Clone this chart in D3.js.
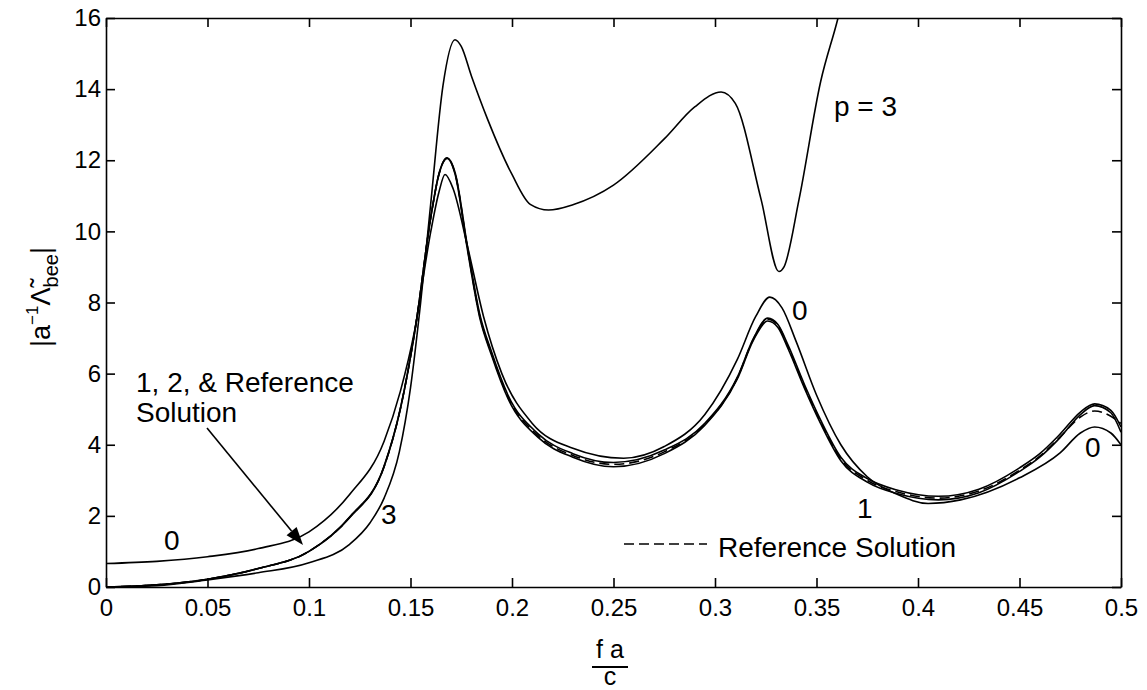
<!DOCTYPE html>
<html>
<head>
<meta charset="utf-8">
<script src="https://cdn.jsdelivr.net/npm/d3@7"></script>
<style>
  html, body { margin: 0; padding: 0; background: #fff; }
  svg { display: block; }
  text { font-family: "Liberation Sans", Arial, Helvetica, sans-serif; fill: #000; }
</style>
</head>
<body>
<svg id="chart" width="1147" height="690"></svg>
<script>
// ---------- data ----------
const xTicks = [0, 0.05, 0.1, 0.15, 0.2, 0.25, 0.3, 0.35, 0.4, 0.45, 0.5];
const xTickLabels = ["0", "0.05", "0.1", "0.15", "0.2", "0.25", "0.3", "0.35", "0.4", "0.45", "0.5"];
const yTicks = [0, 2, 4, 6, 8, 10, 12, 14, 16];
const yTickLabels = ["0", "2", "4", "6", "8", "10", "12", "14", "16"];

// p = 0
const p0X = [0, 0.025, 0.05, 0.075, 0.1, 0.12, 0.137, 0.145, 0.152, 0.16, 0.164, 0.167, 0.171, 0.178, 0.186, 0.195, 0.21, 0.23, 0.255, 0.275, 0.295, 0.311, 0.32, 0.327, 0.333, 0.34, 0.35, 0.362, 0.375, 0.39, 0.405, 0.421, 0.45, 0.47, 0.48, 0.487, 0.495, 0.5];
const p0Y = [0.66, 0.72, 0.85, 1.08, 1.55, 2.6, 4.1, 5.5, 7.2, 10.0, 11.1, 11.6, 11.2, 9.6, 7.6, 6.0, 4.6, 3.9, 3.62, 3.95, 4.85, 6.4, 7.6, 8.15, 7.85, 6.9, 5.4, 4.0, 3.1, 2.6, 2.35, 2.45, 3.07, 3.77, 4.33, 4.5, 4.33, 4.0];

// p = 1, p = 2, reference solution share the same frequency samples
const p12X = [0, 0.025, 0.05, 0.075, 0.1, 0.12, 0.137, 0.145, 0.1527, 0.16, 0.164, 0.168, 0.172, 0.178, 0.184, 0.19, 0.198, 0.213, 0.23, 0.25, 0.275, 0.295, 0.311, 0.319, 0.326, 0.331, 0.336, 0.344, 0.352, 0.362, 0.375, 0.39, 0.41, 0.43, 0.45, 0.46, 0.47, 0.48, 0.487, 0.495, 0.5];
const p1Y = [0, 0.06, 0.22, 0.52, 1.0, 1.95, 3.38, 5.0, 7.4, 10.4, 11.6, 12.05, 11.6, 9.5, 7.6, 6.5, 5.3, 4.2, 3.65, 3.38, 3.75, 4.55, 5.85, 6.95, 7.48, 7.3, 6.7, 5.6, 4.6, 3.55, 2.95, 2.62, 2.45, 2.65, 3.25, 3.65, 4.2, 4.85, 5.1, 4.9, 4.35];
const p2Y = [0, 0.06, 0.22, 0.52, 1.0, 1.97, 3.4, 5.02, 7.4, 10.4, 11.62, 12.07, 11.65, 9.6, 7.7, 6.6, 5.4, 4.3, 3.75, 3.5, 3.85, 4.6, 5.9, 7.0, 7.56, 7.38, 6.8, 5.7, 4.7, 3.65, 3.05, 2.72, 2.55, 2.75, 3.35, 3.75, 4.3, 4.92, 5.15, 4.97, 4.5];
const refY = [0, 0.06, 0.22, 0.52, 1.0, 1.96, 3.39, 5.01, 7.4, 10.4, 11.6, 12.06, 11.62, 9.55, 7.65, 6.55, 5.35, 4.25, 3.7, 3.45, 3.8, 4.57, 5.88, 6.98, 7.53, 7.35, 6.75, 5.65, 4.65, 3.6, 3.0, 2.67, 2.5, 2.7, 3.28, 3.68, 4.22, 4.78, 4.95, 4.8, 4.6];

// p = 3
const p3X = [0, 0.025, 0.05, 0.075, 0.1, 0.12, 0.13, 0.137, 0.1445, 0.15, 0.155, 0.16, 0.166, 0.1719, 0.175, 0.18, 0.188, 0.2, 0.209, 0.218, 0.23, 0.25, 0.275, 0.29, 0.303, 0.31, 0.3227, 0.3315, 0.334, 0.3414, 0.352, 0.3606, 0.364];
const p3Y = [0, 0.04, 0.2, 0.4, 0.68, 1.2, 1.8, 2.5, 3.8, 5.6, 8.0, 10.8, 14.1, 15.39, 15.2, 14.37, 13.15, 11.6, 10.76, 10.6, 10.75, 11.3, 12.6, 13.5, 13.92, 13.6, 10.9, 8.87, 9.0, 10.9, 14.2, 16.0, 16.8];

// ---------- layout ----------
const svg = d3.select("#chart");
svg.append("rect").attr("width", 1147).attr("height", 690).attr("fill", "#fff");

const L = 106, R = 1121, T = 18, B = 587;
const x = d3.scaleLinear().domain([0, 0.5]).range([L, R]);
const y = d3.scaleLinear().domain([0, 16]).range([B, T]);

svg.append("defs").append("clipPath").attr("id", "plotclip")
  .append("rect").attr("x", L).attr("y", T).attr("width", R - L).attr("height", B - T);

const line = d3.line().x(d => x(d[0])).y(d => y(d[1])).curve(d3.curveMonotoneX);
const zip = (xs, ys) => xs.map((v, i) => [v, ys[i]]);

const plot = svg.append("g").attr("clip-path", "url(#plotclip)");
const series = [
  { data: zip(p0X, p0Y), dash: null },
  { data: zip(p12X, p1Y), dash: null },
  { data: zip(p12X, p2Y), dash: null },
  { data: zip(p12X, refY), dash: "10,5" },
  { data: zip(p3X, p3Y), dash: null }
];
plot.selectAll("path.curve").data(series).join("path")
  .attr("class", "curve")
  .attr("d", d => line(d.data))
  .attr("fill", "none")
  .attr("stroke", "#000")
  .attr("stroke-width", 1.6)
  .attr("stroke-dasharray", d => d.dash);

// ---------- axes (inward ticks on all sides) ----------
const fs = 24;
function styleAxis(g) {
  g.select(".domain").attr("stroke", "#000").attr("stroke-width", 1.6);
  g.selectAll(".tick line").attr("stroke", "#000").attr("stroke-width", 1.6);
  g.selectAll(".tick text").attr("font-size", fs).attr("font-family", "Liberation Sans, Arial, sans-serif").attr("fill", "#000");
}
const gB = svg.append("g").attr("transform", `translate(0,${B})`)
  .call(d3.axisBottom(x).tickValues(xTicks).tickFormat((d, i) => xTickLabels[i]).tickSize(-9).tickSizeOuter(0).tickPadding(12));
styleAxis(gB);
const gT = svg.append("g").attr("transform", `translate(0,${T})`)
  .call(d3.axisTop(x).tickValues(xTicks).tickFormat("").tickSize(-9).tickSizeOuter(0));
styleAxis(gT);
const gL = svg.append("g").attr("transform", `translate(${L},0)`)
  .call(d3.axisLeft(y).tickValues(yTicks).tickFormat((d, i) => yTickLabels[i]).tickSize(-9).tickSizeOuter(0).tickPadding(5));
styleAxis(gL);
const gR = svg.append("g").attr("transform", `translate(${R},0)`)
  .call(d3.axisRight(y).tickValues(yTicks).tickFormat("").tickSize(-9).tickSizeOuter(0));
styleAxis(gR);

// ---------- annotations ----------
const af = 28;
const ann = [
  { t: "p = 3", x: 834, y: 116 },
  { t: "0", x: 792, y: 320 },
  { t: "0", x: 1085, y: 457 },
  { t: "1", x: 857, y: 518 },
  { t: "3", x: 381, y: 524 },
  { t: "0", x: 164, y: 550 },
  { t: "1, 2, & Reference", x: 136, y: 392 },
  { t: "Solution", x: 136, y: 422 }
];
svg.selectAll("text.ann").data(ann).join("text")
  .attr("class", "ann").attr("x", d => d.x).attr("y", d => d.y)
  .attr("font-size", af).text(d => d.t);

// arrow
const ax0 = 207, ay0 = 428, ax1 = 303, ay1 = 545;
const ang = Math.atan2(ay1 - ay0, ax1 - ax0);
const hl = 18, hw = 6.5;
const bx = ax1 - hl * Math.cos(ang), by = ay1 - hl * Math.sin(ang);
svg.append("line").attr("x1", ax0).attr("y1", ay0).attr("x2", bx).attr("y2", by)
  .attr("stroke", "#000").attr("stroke-width", 1.6);
svg.append("path")
  .attr("d", `M${ax1},${ay1} L${bx + hw * Math.sin(ang)},${by - hw * Math.cos(ang)} L${bx - hw * Math.sin(ang)},${by + hw * Math.cos(ang)} Z`)
  .attr("fill", "#000");

// legend
svg.append("line").attr("x1", 624).attr("x2", 707).attr("y1", 544).attr("y2", 544)
  .attr("stroke", "#000").attr("stroke-width", 1.6).attr("stroke-dasharray", "10,5");
svg.append("text").attr("x", 718).attr("y", 557).attr("font-size", af).text("Reference Solution");

// x label (fraction f a / c)
svg.append("text").attr("x", 610).attr("y", 658).attr("text-anchor", "middle").attr("font-size", 25).text("f a");
svg.append("line").attr("x1", 592).attr("x2", 628).attr("y1", 667).attr("y2", 667).attr("stroke", "#000").attr("stroke-width", 2);
svg.append("text").attr("x", 610).attr("y", 685).attr("text-anchor", "middle").attr("font-size", 25).text("c");

// y label
const yl = svg.append("text").attr("transform", "translate(50,297) rotate(-90)")
  .attr("text-anchor", "middle").attr("font-size", 27);
yl.append("tspan").text("|a");
yl.append("tspan").attr("dy", -12).attr("font-size", 17).text("−1");
yl.append("tspan").attr("dy", 12).text("Λ\u0303");
yl.append("tspan").attr("dy", 8).attr("font-size", 20).text("bee");
yl.append("tspan").attr("dy", -8).text("|");
</script>
</body>
</html>
